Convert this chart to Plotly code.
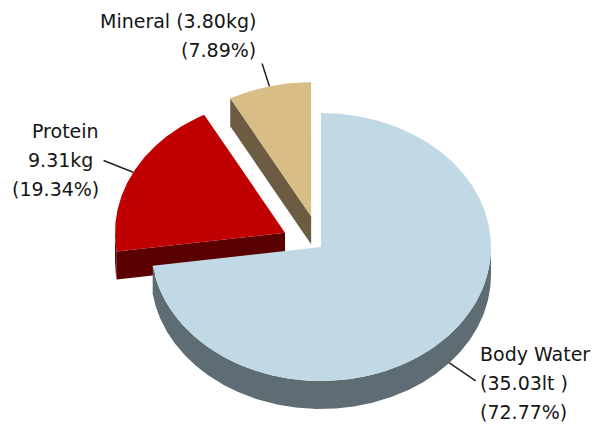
import numpy as np
import plotly.graph_objects as go

# ---- data ----
labels = ["Body Water", "Protein", "Mineral"]
amount_text = ["(35.03lt )", "9.31kg", "(3.80kg)"]
percent = [72.77, 19.34, 7.89]
label_lines = [
    ["Body Water", "(35.03lt )", "(72.77%)"],
    ["Protein", "9.31kg\u00a0", "(19.34%)"],
    ["Mineral (3.80kg)", "(7.89%)"],
]

# ---- style ----
top_colors = ["#C0D9E4", "#C00000", "#D8BD87"]
side_colors = ["#5E6C73", "#5A0000", "#6B5C42"]
pulls = [0.0, 0.237, 0.237]
leader_len = [32, 32, 24]
label_anchor = ["left", "right", "right"]
label_gap = [2, -3, -4]          # horizontal gap from leader end
label_vshift = [-27, -29, -42]   # y of first line relative to leader end
LINE_H = 29
CX, CY, RX, RY, DEPTH = 321, 247, 170, 134, 28
W, H = 596, 429
FONT = dict(family="DejaVu Sans", size=19, color="#151515")

fig = go.Figure()

total = sum(percent)
angles = [0.0]
for v in percent:
    angles.append(angles[-1] + 360.0 * v / total)


def pt(th_deg, ox, oy, dz=0.0):
    t = np.radians(th_deg)
    return CX + ox + RX * np.sin(t), CY + oy - RY * np.cos(t) + dz


def arc(a0, a1, ox, oy, dz=0.0, n=None):
    n = n or max(3, int(abs(a1 - a0) * 2))
    th = np.linspace(a0, a1, n)
    t = np.radians(th)
    return list(CX + ox + RX * np.sin(t)), list(CY + oy - RY * np.cos(t) + dz)


def poly(xs, ys, color):
    fig.add_trace(go.Scatter(x=xs + [xs[0]], y=ys + [ys[0]], mode="lines",
                             fill="toself", fillcolor=color,
                             line=dict(width=0, color=color),
                             hoverinfo="skip", showlegend=False))


geo = []
for i in range(len(percent)):
    a0, a1 = angles[i], angles[i + 1]
    mid = (a0 + a1) / 2
    ox = pulls[i] * RX * np.sin(np.radians(mid))
    oy = -pulls[i] * RY * np.cos(np.radians(mid))
    geo.append((a0, a1, mid, ox, oy))

# draw back-to-front: Mineral, Protein, Body Water
for i in [2, 1, 0]:
    a0, a1, mid, ox, oy = geo[i]
    cx, cy = CX + ox, CY + oy
    # radial side faces
    if np.sin(np.radians(a0)) < -1e-9:
        x1, y1 = pt(a0, ox, oy)
        poly([cx, x1, x1, cx], [cy, y1, y1 + DEPTH, cy + DEPTH], side_colors[i])
    if np.sin(np.radians(a1)) > 1e-9:
        x1, y1 = pt(a1, ox, oy)
        poly([cx, x1, x1, cx], [cy, y1, y1 + DEPTH, cy + DEPTH], side_colors[i])
    # outer rim (front half: 90..270 deg)
    r0, r1 = max(a0, 90), min(a1, 270)
    if r1 > r0:
        xt, yt = arc(r0, r1, ox, oy)
        xb, yb = arc(r0, r1, ox, oy, DEPTH)
        poly(xt + xb[::-1], yt + yb[::-1], side_colors[i])
    # top surface
    xa, ya = arc(a0, a1, ox, oy)
    poly([cx] + xa, [cy] + ya, top_colors[i])

# leader lines and labels
for i in range(len(percent)):
    a0, a1, mid, ox, oy = geo[i]
    front = 90 < mid < 270
    sx, sy = pt(mid, ox, oy, DEPTH if front else 0)
    t = np.radians(mid)
    dx, dy = RX * np.sin(t), -RY * np.cos(t)
    nrm = np.hypot(dx, dy)
    ex, ey = sx + leader_len[i] * dx / nrm, sy + leader_len[i] * dy / nrm
    fig.add_shape(type="line", x0=sx, y0=sy, x1=ex, y1=ey,
                  line=dict(color="#222222", width=1.5))
    for k, line in enumerate(label_lines[i]):
        fig.add_annotation(x=ex + label_gap[i], y=ey + label_vshift[i] + k * LINE_H,
                           text=line, showarrow=False, xanchor=label_anchor[i],
                           yanchor="middle", align=label_anchor[i], font=FONT)

fig.update_layout(
    width=W, height=H, margin=dict(l=0, r=0, t=0, b=0),
    paper_bgcolor="white", plot_bgcolor="white", showlegend=False,
    xaxis=dict(range=[0, W], visible=False, fixedrange=True),
    yaxis=dict(range=[H, 0], visible=False, fixedrange=True),
)

fig.write_html("out.html", config={"displayModeBar": False, "staticPlot": True},
               post_script="document.body.style.margin='0';")
